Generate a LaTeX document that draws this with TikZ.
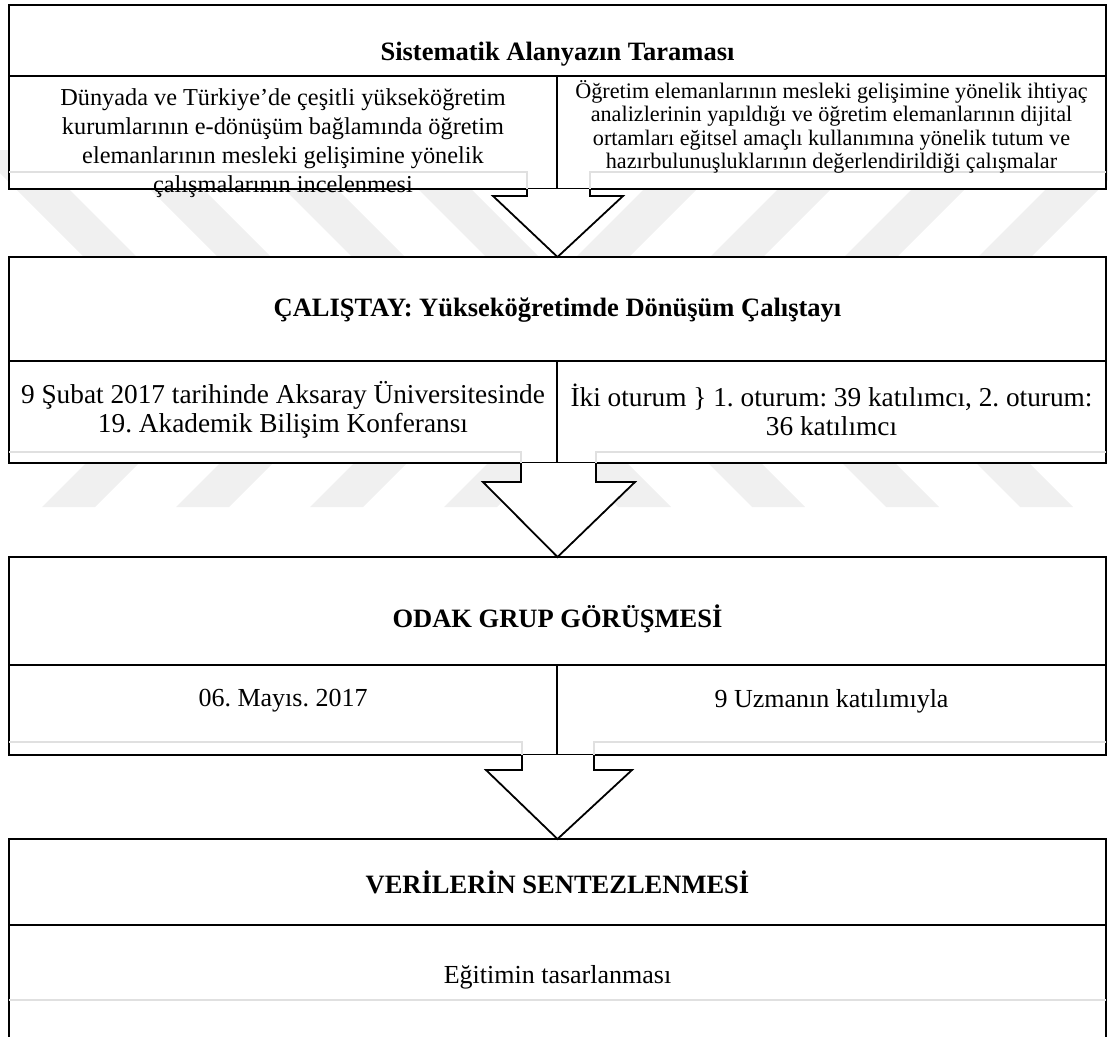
\documentclass[tikz,border=0pt]{standalone}
\usepackage{fontspec}
\setmainfont{Liberation Serif}
\usetikzlibrary{calc}
\frenchspacing
\begin{document}
\begin{tikzpicture}[x=1pt,y=-1pt,
  frame/.style={draw=black, line width=1.8pt, fill=white, inner sep=0pt, outer sep=0pt, anchor=north west},
  ttl/.style={font=\fontsize{26.5}{30}\selectfont\bfseries, align=center, inner sep=0pt},
  body/.style={font=\fontsize{26}{28}\selectfont, align=center, inner sep=0pt},
  wide/.style={font=\fontsize{27.3}{29}\selectfont, align=center, inner sep=0pt},
  lead/.style={font=\fontsize{24.3}{27}\selectfont, align=center, inner sep=0pt},
  small/.style={font=\fontsize{22.2}{23.3}\selectfont, align=center, inner sep=0pt},
  ghost/.style={draw=black!12, line width=1.5pt},
  wm/.style={fill=black!6},
  bigarrow/.style={draw=black, line width=1.8pt, fill=white, line join=miter}]
\useasboundingbox (0,0) rectangle (1108,1036);
\clip (0,0) rectangle (1108,1036);

% faint background emblem: nested chevron stripes, mirrored about the centre
\foreach \k in {0,...,3} {
  \pgfmathsetmacro\xa{188+134*\k}
  \pgfmathsetmacro\xb{1115-\xa}
  \fill[wm] (\xa-211,150) -- (\xa,361) -- (\xa-146,507) -- (\xa-93,507) -- (\xa+53,361) -- (\xa-158,150) -- cycle;
  \fill[wm] (\xb+211,150) -- (\xb,361) -- (\xb+146,507) -- (\xb+93,507) -- (\xb-53,361) -- (\xb+158,150) -- cycle;
}

% stage boxes: heading strip and two detail cells
\node[frame, minimum width=1097pt, minimum height=71pt]  (b1)  at (9,5) {};
\node[frame, minimum width=548pt,  minimum height=113pt] (b1l) at (9,76) {};
\node[frame, minimum width=549pt,  minimum height=113pt] (b1r) at (557,76) {};

\node[frame, minimum width=1097pt, minimum height=104pt] (b2)  at (9,257) {};
\node[frame, minimum width=548pt,  minimum height=102pt] (b2l) at (9,361) {};
\node[frame, minimum width=549pt,  minimum height=102pt] (b2r) at (557,361) {};

\node[frame, minimum width=1097pt, minimum height=108pt] (b3)  at (9,557) {};
\node[frame, minimum width=548pt,  minimum height=90pt]  (b3l) at (9,665) {};
\node[frame, minimum width=549pt,  minimum height=90pt]  (b3r) at (557,665) {};

\node[frame, minimum width=1097pt, minimum height=86pt]  (b4)  at (9,839) {};
\node[frame, minimum width=1097pt, minimum height=130pt] (b4b) at (9,925) {};

% faint outlines of the arrow callouts behind the cells
\draw[ghost] (b1l.west |- 0,172) -- (527,172) -- (527,189);
\draw[ghost] (590,189) -- (590,172) -- (b1r.east |- 0,172);
\draw[ghost] (b2l.west |- 0,452) -- (521,452) -- (521,463);
\draw[ghost] (596,463) -- (596,452) -- (b2r.east |- 0,452);
\draw[ghost] (b3l.west |- 0,742) -- (522,742) -- (522,755);
\draw[ghost] (594,755) -- (594,742) -- (b3r.east |- 0,742);
\draw[ghost] (b4b.west |- 0,1000) -- (b4b.east |- 0,1000);

% block arrows between stages
\coordinate (a1) at (b2.north);
\coordinate (a2) at (b3.north);
\coordinate (a3) at (b4.north);
\draw[bigarrow] (527,189) -- (527,196) -- (493,196) -- (a1) -- (623,196) -- (590,196) -- (590,189);
\draw[bigarrow] (521,463) -- (521,482) -- (483,482) -- (a2) -- (635,482) -- (596,482) -- (596,463);
\draw[bigarrow] (522,755) -- (522,770) -- (486,770) -- (a3) -- (632,770) -- (594,770) -- (594,755);

% texts
\node[ttl]  (t1)  at (557.5,54) {Sistematik Alanyazın Taraması};
\node[lead] (t1l) at (283,143) {Dünyada ve Türkiye’de çeşitli yükseköğretim\\[2pt] kurumlarının e-dönüşüm bağlamında öğretim\\[2pt] elemanlarının mesleki gelişimine yönelik\\[2pt] çalışmalarının incelenmesi};
\node[small] (t1r) at (831.5,127) {Öğretim elemanlarının mesleki gelişimine yönelik ihtiyaç\\ analizlerinin yapıldığı ve öğretim elemanlarının dijital\\ ortamları eğitsel amaçlı kullanımına yönelik tutum ve\\ hazırbulunuşluklarının değerlendirildiği çalışmalar};

\node[ttl]  (t2)  at (557.5,310) {ÇALIŞTAY: Yükseköğretimde Dönüşüm Çalıştayı};
\node[wide] (t2l) at (283,410) {9 Şubat 2017 tarihinde Aksaray Üniversitesinde\\ 19. Akademik Bilişim Konferansı};
\node[wide] (t2r) at (831.5,410) {İki oturum \}\ 1. oturum: 39 katılımcı, 2. oturum:\\ 36 katılımcı};

\node[ttl]  (t3)  at (557.5,619) {ODAK GRUP GÖRÜŞMESİ};
\node[body] (t3l) at (283,701) {06. Mayıs. 2017};
\node[body] (t3r) at (831.5,701) {9 Uzmanın katılımıyla};

\node[ttl]  (t4)  at (557.5,882) {VERİLERİN SENTEZLENMESİ};
\node[body] (t4b) at (557.5,977) {Eğitimin tasarlanması};
\end{tikzpicture}
\end{document}
